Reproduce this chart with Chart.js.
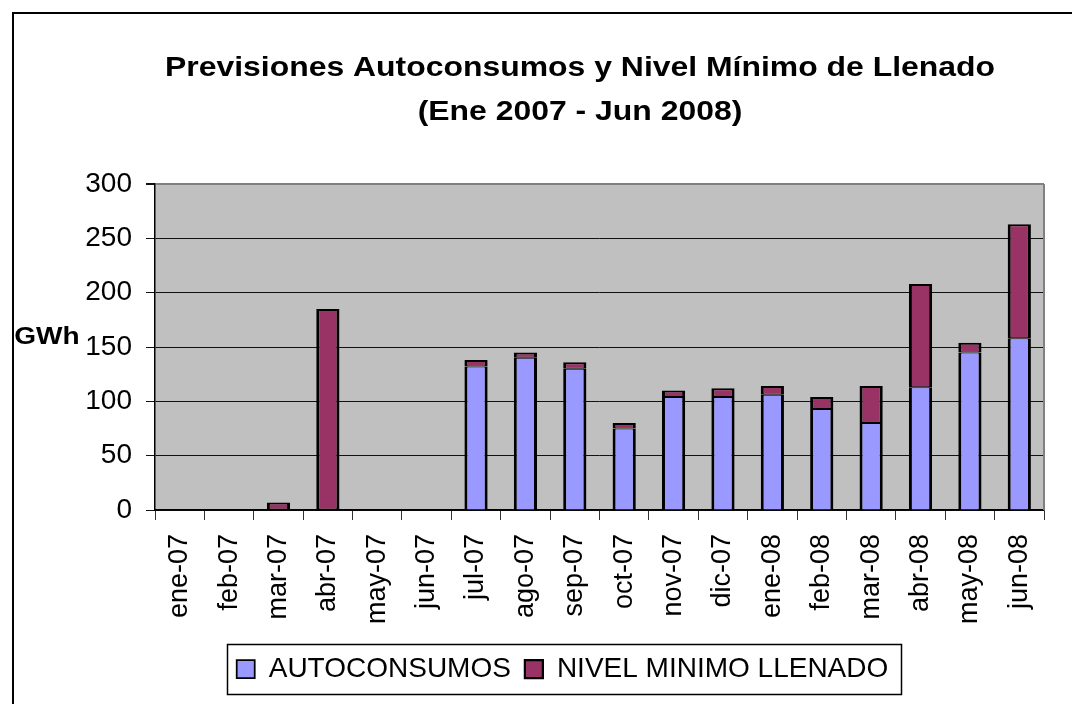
<!DOCTYPE html>
<html lang="es">
<head>
<meta charset="UTF-8">
<title>Previsiones Autoconsumos y Nivel Mínimo de Llenado</title>
<style>
  html, body { margin: 0; padding: 0; background: #fff; }
  #wrap { width: 1072px; height: 704px; }
</style>
</head>
<body>
<div id="wrap"><canvas id="myChart" width="1072" height="704"></canvas></div>

<script src="https://cdn.jsdelivr.net/npm/chart.js@4.4.1/dist/chart.umd.min.js"></script>
<script>
// data (GWh)
var months = ['ene-07', 'feb-07', 'mar-07', 'abr-07', 'may-07', 'jun-07', 'jul-07', 'ago-07', 'sep-07',
              'oct-07', 'nov-07', 'dic-07', 'ene-08', 'feb-08', 'mar-08', 'abr-08', 'may-08', 'jun-08'];
var autoconsumos = [null, null, null, null, null, null, 132, 140, 130, 75, 104, 104, 106, 93, 80, 113, 145, 158];
var nivelMinimo  = [null, null, 7, 185, null, null, 6, 5, 6, 5, 6, 8, 8, 11, 34, 95, 9, 105];
var seriesNames = ['AUTOCONSUMOS', 'NIVEL MINIMO LLENADO'];
var titleLines = ['Previsiones Autoconsumos y Nivel Mínimo de Llenado', '(Ene 2007 - Jun 2008)'];
var yLabel = 'GWh';
var yMax = 300;
var yStep = 50;

var FONT = '"Liberation Sans", Arial, sans-serif';

// frame, plot background, title, axis label and legend box
var decor = {
    id: 'decor',
    beforeDraw: function (chart) {
        var ctx = chart.ctx, a = chart.chartArea;
        ctx.save();
        ctx.fillStyle = '#fff';
        ctx.fillRect(0, 0, chart.width, chart.height);
        ctx.strokeStyle = '#000';
        ctx.lineWidth = 2;
        ctx.strokeRect(13, 13, chart.width + 50, chart.height + 50);
        ctx.fillStyle = '#c0c0c0';
        ctx.fillRect(a.left, a.top, a.right - a.left, a.bottom - a.top);
        ctx.restore();
    },
    afterDraw: function (chart) {
        var ctx = chart.ctx, a = chart.chartArea;
        ctx.save();
        // right edge of plot
        ctx.strokeStyle = '#808080';
        ctx.lineWidth = 2;
        ctx.beginPath();
        ctx.moveTo(a.right, a.top);
        ctx.lineTo(a.right, a.bottom);
        ctx.stroke();

        // title, slightly wide like the original
        ctx.fillStyle = '#000';
        ctx.textAlign = 'center';
        ctx.textBaseline = 'middle';
        ctx.font = 'bold 28px ' + FONT;
        [[titleLines[0], 68], [titleLines[1], 112]].forEach(function (t) {
            ctx.save();
            ctx.translate(580, t[1]);
            ctx.scale(1.14, 1);
            ctx.fillText(t[0], 0, 0);
            ctx.restore();
        });

        // GWh
        ctx.save();
        ctx.font = 'bold 23px ' + FONT;
        ctx.translate(47, 338);
        ctx.scale(1.22, 1);
        ctx.fillText(yLabel, 0, 0);
        ctx.restore();

        // legend frame
        var boxes = chart.legend.legendHitBoxes;
        if (boxes && boxes.length) {
            var first = boxes[0], last = boxes[boxes.length - 1];
            var x0 = first.left - 10, x1 = last.left + last.width + 12;
            var yc = first.top + first.height / 2;
            ctx.strokeStyle = '#000';
            ctx.lineWidth = 1.5;
            ctx.strokeRect(Math.round(x0) + 0.5, Math.round(yc - 25) + 0.5, Math.round(x1 - x0), 50);
        }
        ctx.restore();
    }
};

var ctx = document.getElementById('myChart').getContext('2d');
var myChart = new Chart(ctx, {
    type: 'bar',
    data: {
        labels: months,
        datasets: [
            {
                label: seriesNames[0],
                data: autoconsumos,
                backgroundColor: '#9999ff',
                borderColor: '#000',
                borderWidth: { left: 3, right: 3, top: 1, bottom: 0 },
                borderSkipped: false
            },
            {
                label: seriesNames[1],
                data: nivelMinimo,
                backgroundColor: '#993366',
                borderColor: '#000',
                borderWidth: { left: 3, right: 3, top: 2, bottom: 1 },
                borderSkipped: false
            }
        ]
    },
    options: {
        responsive: false,
        animation: false,
        layout: { padding: { left: 81, right: 28, top: 184, bottom: 11 } },
        datasets: { bar: { barPercentage: 0.47, categoryPercentage: 1 } },
        scales: {
            x: {
                stacked: true,
                afterFit: function (scale) { scale.height = 131; },
                grid: {
                    drawOnChartArea: false,
                    drawTicks: true,
                    tickLength: 10,
                    tickColor: '#333',
                    offset: true
                },
                border: { color: '#000', width: 1.5 },
                ticks: {
                    color: '#000',
                    font: { family: FONT, size: 27 },
                    maxRotation: 90,
                    minRotation: 90,
                    padding: 14,
                    autoSkip: false
                }
            },
            y: {
                stacked: true,
                min: 0,
                max: yMax,
                afterFit: function (scale) { scale.width = 74; },
                grid: {
                    color: function (c) { return c.tick && c.tick.value === yMax ? '#808080' : '#111'; },
                    lineWidth: function (c) { return c.tick && c.tick.value === yMax ? 2 : 1; },
                    tickLength: 9,
                    tickColor: '#111'
                },
                border: { color: '#000', width: 1.5 },
                ticks: {
                    stepSize: yStep,
                    color: '#000',
                    font: { family: FONT, size: 28 },
                    padding: 14
                }
            }
        },
        plugins: {
            title: { display: false },
            tooltip: { enabled: false },
            legend: {
                position: 'bottom',
                labels: {
                    color: '#000',
                    font: { family: FONT, size: 28 },
                    boxWidth: 18,
                    boxHeight: 18,
                    padding: 14
                }
            }
        }
    },
    plugins: [decor]
});
</script>
</body>
</html>
